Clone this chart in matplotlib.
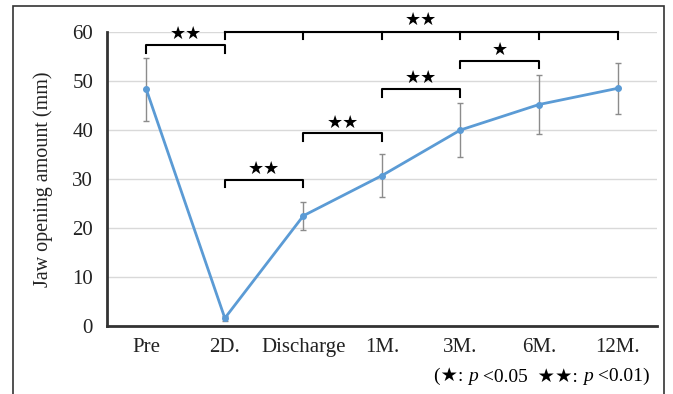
import numpy as np
import matplotlib
matplotlib.use("Agg")
import matplotlib.pyplot as plt
from matplotlib.patches import Rectangle

# datos
etiquetas = ["Pre", "2D.", "Discharge", "1M.", "3M.", "6M.", "12M."]
apertura = [48.3, 1.6, 22.5, 30.7, 40.0, 45.2, 48.5]
error = [6.4, 0.5, 2.9, 4.3, 5.5, 6.0, 5.2]

# corchetes de significancia: (inicio, fin, altura, estrellas)
corchetes = [(0, 1, 57.3, "★★"),
             (1, 2, 29.8, "★★"),
             (2, 3, 39.3, "★★"),
             (3, 4, 48.3, "★★"),
             (4, 5, 54.1, "★")]
corchete_largo = (1, 6, 60.0, "★★")

plt.rcParams['font.family'] = ['Liberation Serif', 'DejaVu Sans']

fig = plt.figure(figsize=(6.73, 3.94), dpi=100)
ax = fig.add_axes([0.159, 0.1726, 0.817, 0.7462])

x = np.arange(len(etiquetas))
ax.errorbar(x, apertura, yerr=error, color='#5B9BD5', lw=2, marker='o', markersize=4,
            ecolor='#8c8c8c', elinewidth=1, capsize=2.5, capthick=1, zorder=3)

ax.set_xlim(-0.5, 6.5)
ax.set_ylim(0, 60)
ax.set_yticks(np.arange(0, 61, 10))
ax.set_xticks(x)
ax.set_xticklabels(etiquetas)
ax.tick_params(axis='both', length=0, labelsize=15, labelcolor='#222222')
ax.tick_params(axis='y', pad=10)
ax.tick_params(axis='x', pad=9)
ax.grid(axis='y', color='#d9d9d9', lw=1)
ax.set_axisbelow(True)
for s in ['top', 'right']:
    ax.spines[s].set_visible(False)
for s in ['left', 'bottom']:
    ax.spines[s].set_linewidth(2)
    ax.spines[s].set_color('#333333')
ax.set_ylabel("Jaw opening amount (mm)", fontsize=14.5, labelpad=14, color='#222222')

# corchetes
for a, b, h, txt in corchetes:
    ax.plot([a, a, b, b], [h - 1.5, h, h, h - 1.5], color='black', lw=1.5, clip_on=False)
    ax.text((a + b) / 2, h + 0.4, txt, ha='center', va='bottom', fontsize=13,
            family='DejaVu Sans')

a, b, h, txt = corchete_largo
ax.plot([a, b], [h, h], color='black', lw=1.5, clip_on=False)
for k in range(a, b + 1):
    ax.plot([k, k], [h, h - 1.4], color='black', lw=1.5, clip_on=False)
ax.text(3.5, h + 0.6, txt, ha='center', va='bottom', fontsize=13, family='DejaVu Sans',
        clip_on=False)

# leyenda de significancia, armada por partes (p en cursiva)
partes = [("(★: ", 'normal'), ("p", 'italic'), (" <0.05  ★★: ", 'normal'),
          ("p", 'italic'), (" <0.01)", 'normal')]
prev = fig.text(0.645, 0.032, partes[0][0], ha='left', va='baseline', fontsize=14)
for txt, estilo in partes[1:]:
    prev = ax.annotate(txt, xy=(1, 0), xycoords=prev, xytext=(0, 0),
                       textcoords='offset points', fontsize=14, style=estilo,
                       va='bottom', ha='left', annotation_clip=False)

# marco exterior
fig.patches.append(Rectangle((0.019, -0.1), 0.968, 1.085, transform=fig.transFigure,
                             fill=False, edgecolor='#333333', lw=1.2))

plt.savefig('out.png', dpi=100)
